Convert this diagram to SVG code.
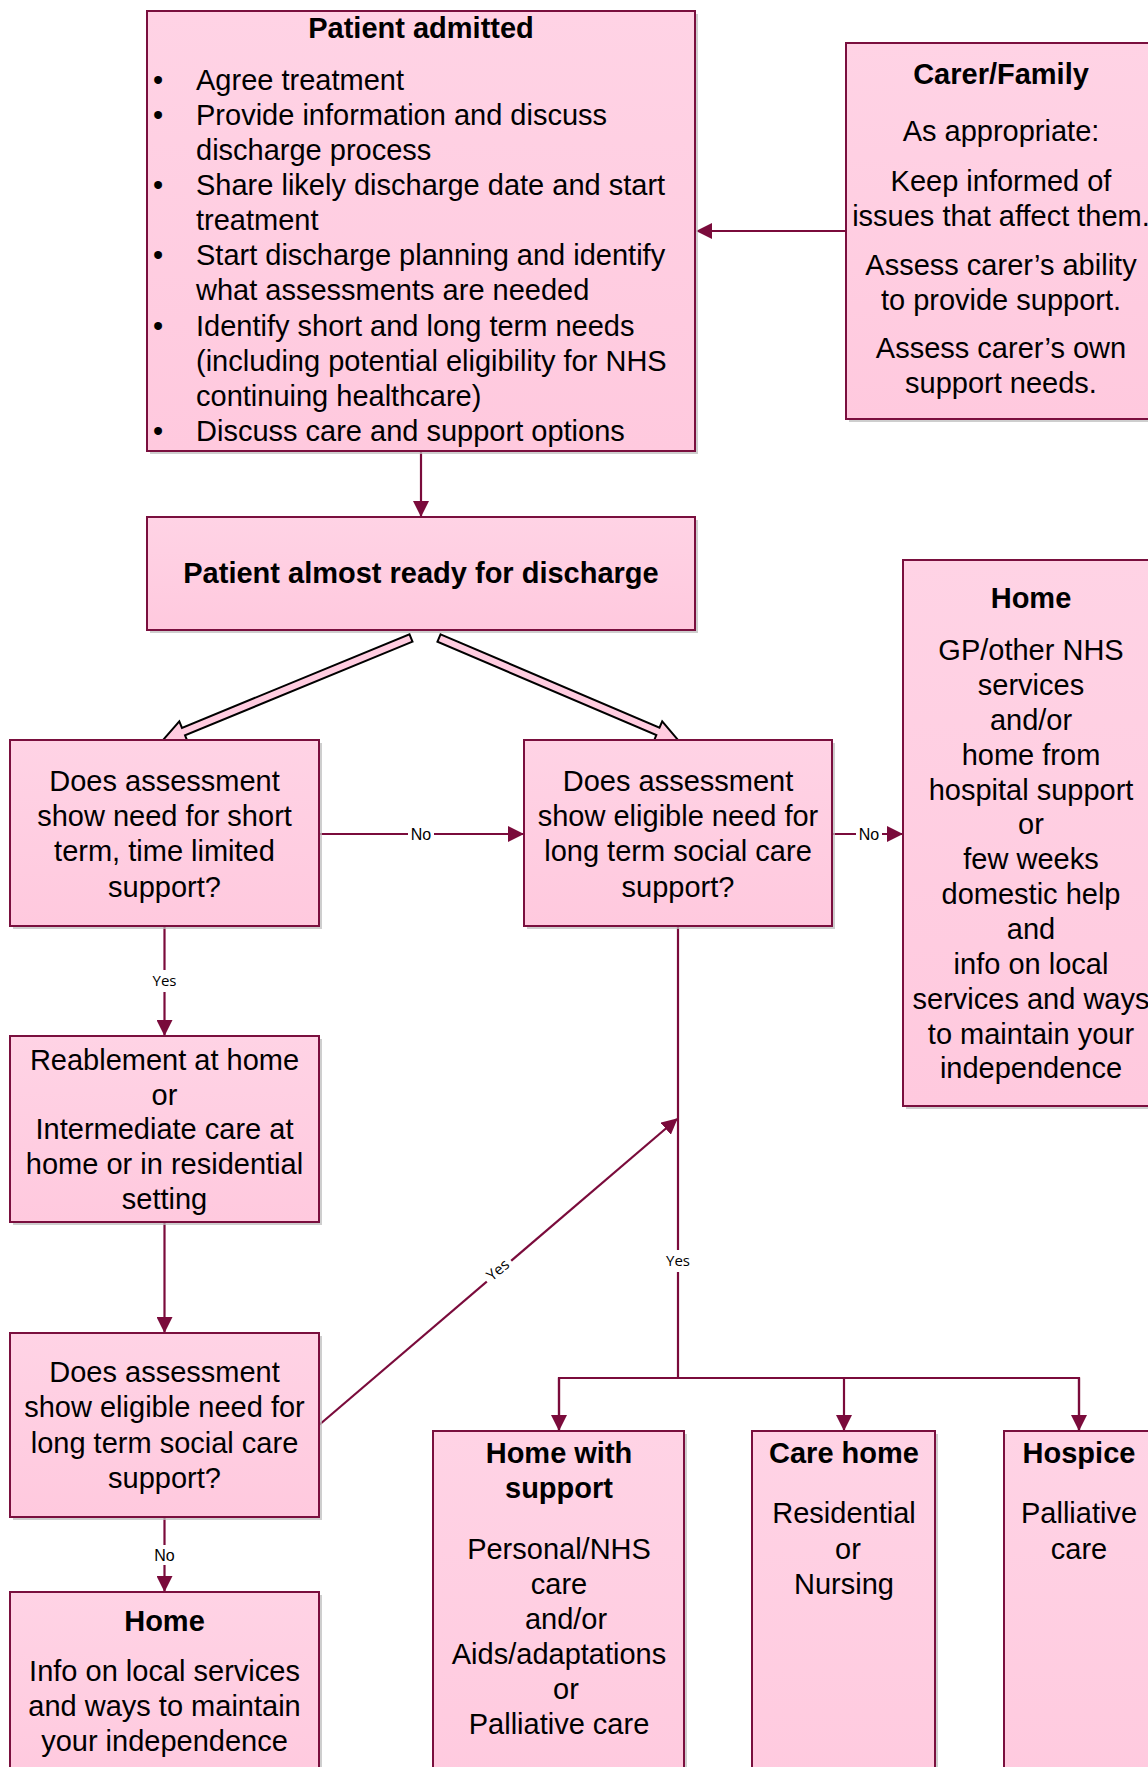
<svg xmlns="http://www.w3.org/2000/svg" width="1148" height="1767" viewBox="0 0 1148 1767">
<style>
.box{fill:url(#pk);stroke:#7A0F3E;stroke-width:2}
.sh{fill:#bdbdbd;opacity:.75}
.t{font-family:"Liberation Sans",Arial,sans-serif;font-size:29px;fill:#000;text-anchor:middle}
.tl{font-family:"Liberation Sans",Arial,sans-serif;font-size:29px;fill:#000}
.b{font-weight:bold}
.c{fill:none;stroke:#7A0B3B;stroke-width:2.2}
.ar{marker-end:url(#ah)}
.lbl{font-family:"Liberation Sans",Arial,sans-serif;font-size:16px;fill:#000;text-anchor:middle}
.lby{font-family:"Open Sans","Liberation Sans",sans-serif;font-size:15px;fill:#000;text-anchor:middle}
.blk{fill:#FFCCE0;stroke:#000;stroke-width:2;stroke-linejoin:miter}
</style>
<defs>
<linearGradient id="pk" x1="0" y1="0" x2="0" y2="1">
<stop offset="0" stop-color="#FFD3E5"/>
<stop offset="1" stop-color="#FFC9DE"/>
</linearGradient>
<marker id="ah" markerUnits="userSpaceOnUse" markerWidth="16" markerHeight="16" refX="15" refY="8" orient="auto">
<path d="M0,0 L16,8 L0,16 z" fill="#7A0B3B"/>
</marker>
</defs>

<g id="connectors">
<line class="c ar" x1="846" y1="231" x2="697" y2="231"/>
<line class="c ar" x1="421" y1="451" x2="421" y2="516"/>
<g transform="translate(411,638) rotate(157.64)">
<polygon class="blk" points="0,-4 246,-4 246,-11 268,0 246,11 246,4 0,4"/>
</g>
<g transform="translate(439,638) rotate(23.11)">
<polygon class="blk" points="0,-4 238,-4 238,-11 260,0 238,11 238,4 0,4"/>
</g>
<line class="c ar" x1="319" y1="834" x2="523" y2="834"/>
<rect x="408" y="824" width="26" height="20" fill="#fff"/>
<text class="lbl" x="421" y="840">No</text>
<line class="c ar" x1="833" y1="834" x2="902" y2="834"/>
<rect x="856" y="824" width="26" height="20" fill="#fff"/>
<text class="lbl" x="869" y="840">No</text>
<line class="c ar" x1="164.5" y1="926" x2="164.5" y2="1035"/>
<rect x="148" y="970" width="33" height="22" fill="#fff"/>
<text class="lby" x="164.5" y="986">Yes</text>
<line class="c ar" x1="164.5" y1="1222" x2="164.5" y2="1332"/>
<line class="c ar" x1="164.5" y1="1518" x2="164.5" y2="1591"/>
<rect x="150" y="1545" width="29" height="20" fill="#fff"/>
<text class="lbl" x="164.5" y="1561">No</text>
<line class="c ar" x1="319" y1="1425" x2="677" y2="1119"/>
<g transform="translate(498,1270) rotate(-40.45)">
<rect x="-16" y="-11" width="32" height="20" fill="#fff"/>
<text class="lby" x="0" y="5">Yes</text>
</g>
<polyline class="c" points="678,926 678,1378"/>
<rect x="662" y="1250" width="33" height="22" fill="#fff"/>
<text class="lby" x="678" y="1266">Yes</text>
<polyline class="c" points="559,1430 559,1378 1079,1378 1079,1430"/>
<line class="c ar" x1="559" y1="1378" x2="559" y2="1430"/>
<line class="c ar" x1="844" y1="1378" x2="844" y2="1430"/>
<line class="c ar" x1="1079" y1="1378" x2="1079" y2="1430"/>
</g>

<g id="patient-admitted">
<rect class="sh" x="150" y="14" width="548" height="440"/>
<rect class="box" x="147" y="11" width="548" height="440"/>
<text class="t b" x="421" y="38">Patient admitted</text>
<g class="tl">
<text x="153" y="90">•</text><text x="196" y="90">Agree treatment</text>
<text x="153" y="125">•</text><text x="196" y="125">Provide information and discuss</text>
<text x="196" y="160">discharge process</text>
<text x="153" y="195">•</text><text x="196" y="195">Share likely discharge date and start</text>
<text x="196" y="230">treatment</text>
<text x="153" y="265">•</text><text x="196" y="265">Start discharge planning and identify</text>
<text x="196" y="300">what assessments are needed</text>
<text x="153" y="336">•</text><text x="196" y="336">Identify short and long term needs</text>
<text x="196" y="371">(including potential eligibility for NHS</text>
<text x="196" y="406">continuing healthcare)</text>
<text x="153" y="441">•</text><text x="196" y="441">Discuss care and support options</text>
</g>
</g>

<g id="carer-family">
<rect class="sh" x="849" y="46" width="320" height="376"/>
<rect class="box" x="846" y="43" width="320" height="376"/>
<text class="t b" x="1001" y="84">Carer/Family</text>
<text class="t" x="1001" y="141">As appropriate:</text>
<text class="t" x="1001" y="191">Keep informed of</text>
<text class="t" x="1001" y="226">issues that affect them.</text>
<text class="t" x="1001" y="275">Assess carer’s ability</text>
<text class="t" x="1001" y="310">to provide support.</text>
<text class="t" x="1001" y="358">Assess carer’s own</text>
<text class="t" x="1001" y="393">support needs.</text>
</g>

<g id="almost-ready">
<rect class="sh" x="150" y="520" width="548" height="113"/>
<rect class="box" x="147" y="517" width="548" height="113"/>
<text class="t b" x="421" y="583">Patient almost ready for discharge</text>
</g>

<g id="short-term">
<rect class="sh" x="13" y="743" width="309" height="186"/>
<rect class="box" x="10" y="740" width="309" height="186"/>
<text class="t" x="164.5" y="791">Does assessment</text>
<text class="t" x="164.5" y="826">show need for short</text>
<text class="t" x="164.5" y="861">term, time limited</text>
<text class="t" x="164.5" y="897">support?</text>
</g>

<g id="long-term-1">
<rect class="sh" x="527" y="743" width="308" height="186"/>
<rect class="box" x="524" y="740" width="308" height="186"/>
<text class="t" x="678" y="791">Does assessment</text>
<text class="t" x="678" y="826">show eligible need for</text>
<text class="t" x="678" y="861">long term social care</text>
<text class="t" x="678" y="897">support?</text>
</g>

<g id="home-right">
<rect class="sh" x="906" y="563" width="260" height="546"/>
<rect class="box" x="903" y="560" width="260" height="546"/>
<text class="t b" x="1031" y="608">Home</text>
<text class="t" x="1031" y="660">GP/other NHS</text>
<text class="t" x="1031" y="695">services</text>
<text class="t" x="1031" y="730">and/or</text>
<text class="t" x="1031" y="765">home from</text>
<text class="t" x="1031" y="800">hospital support</text>
<text class="t" x="1031" y="834">or</text>
<text class="t" x="1031" y="869">few weeks</text>
<text class="t" x="1031" y="904">domestic help</text>
<text class="t" x="1031" y="939">and</text>
<text class="t" x="1031" y="974">info on local</text>
<text class="t" x="1031" y="1009">services and ways</text>
<text class="t" x="1031" y="1044">to maintain your</text>
<text class="t" x="1031" y="1078">independence</text>
</g>

<g id="reablement">
<rect class="sh" x="13" y="1039" width="309" height="186"/>
<rect class="box" x="10" y="1036" width="309" height="186"/>
<text class="t" x="164.5" y="1070">Reablement at home</text>
<text class="t" x="164.5" y="1105">or</text>
<text class="t" x="164.5" y="1139">Intermediate care at</text>
<text class="t" x="164.5" y="1174">home or in residential</text>
<text class="t" x="164.5" y="1209">setting</text>
</g>

<g id="long-term-2">
<rect class="sh" x="13" y="1336" width="309" height="184"/>
<rect class="box" x="10" y="1333" width="309" height="184"/>
<text class="t" x="164.5" y="1382">Does assessment</text>
<text class="t" x="164.5" y="1417">show eligible need for</text>
<text class="t" x="164.5" y="1453">long term social care</text>
<text class="t" x="164.5" y="1488">support?</text>
</g>

<g id="home-left">
<rect class="sh" x="13" y="1595" width="309" height="200"/>
<rect class="box" x="10" y="1592" width="309" height="200"/>
<text class="t b" x="164.5" y="1631">Home</text>
<text class="t" x="164.5" y="1681">Info on local services</text>
<text class="t" x="164.5" y="1716">and ways to maintain</text>
<text class="t" x="164.5" y="1751">your independence</text>
</g>

<g id="home-with-support">
<rect class="sh" x="436" y="1434" width="251" height="400"/>
<rect class="box" x="433" y="1431" width="251" height="400"/>
<text class="t b" x="559" y="1463">Home with</text>
<text class="t b" x="559" y="1498">support</text>
<text class="t" x="559" y="1559">Personal/NHS</text>
<text class="t" x="559" y="1594">care</text>
<text class="t" x="566" y="1629">and/or</text>
<text class="t" x="559" y="1664">Aids/adaptations</text>
<text class="t" x="566" y="1699">or</text>
<text class="t" x="559" y="1734">Palliative care</text>
</g>

<g id="care-home">
<rect class="sh" x="755" y="1434" width="183" height="400"/>
<rect class="box" x="752" y="1431" width="183" height="400"/>
<text class="t b" x="844" y="1463">Care home</text>
<text class="t" x="844" y="1523">Residential</text>
<text class="t" x="848" y="1559">or</text>
<text class="t" x="844" y="1594">Nursing</text>
</g>

<g id="hospice">
<rect class="sh" x="1007" y="1434" width="200" height="400"/>
<rect class="box" x="1004" y="1431" width="200" height="400"/>
<text class="t b" x="1079" y="1463">Hospice</text>
<text class="t" x="1079" y="1523">Palliative</text>
<text class="t" x="1079" y="1559">care</text>
</g>
</svg>
